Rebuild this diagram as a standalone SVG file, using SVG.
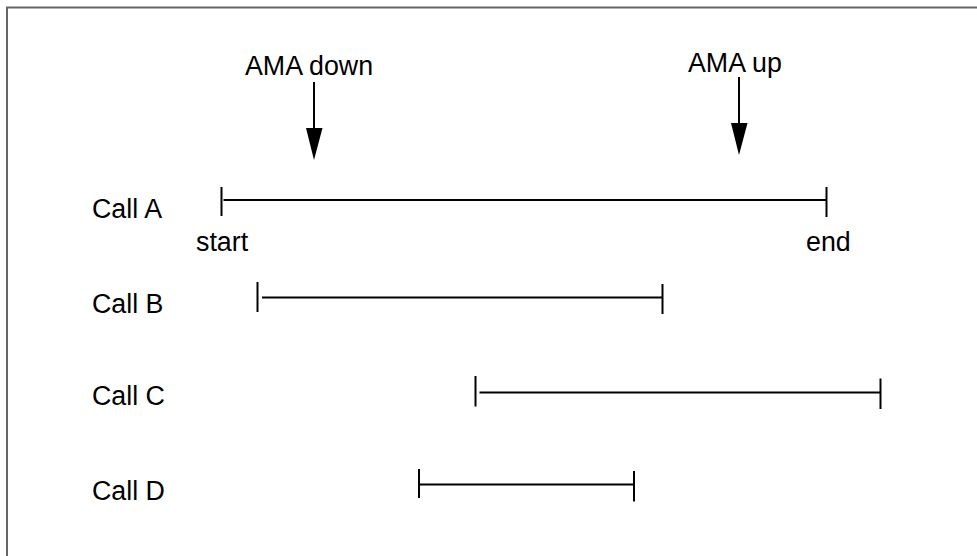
<svg xmlns="http://www.w3.org/2000/svg" width="977" height="556" viewBox="0 0 977 556">
<style>
text{font-family:"Liberation Sans",Arial,sans-serif;font-size:26.8px;fill:#000}
.ln{stroke:#000;stroke-width:2;fill:none}
.head{fill:#000}
</style>
<rect x="0" y="0" width="977" height="556" fill="#fff"/>
<rect x="7" y="7.5" width="990" height="580" fill="none" stroke="#666" stroke-width="2"/>
<g id="labels">
<g id="ama-down"><text x="245" y="75">AMA down</text></g>
<g id="ama-up"><text x="688" y="72">AMA up</text></g>
<g id="call-a-label"><text x="92" y="218">Call A</text></g>
<g id="start-label"><text x="196" y="251">start</text></g>
<g id="end-label"><text x="806" y="251">end</text></g>
<g id="call-b-label"><text x="92" y="313">Call B</text></g>
<g id="call-c-label"><text x="92" y="405">Call C</text></g>
<g id="call-d-label"><text x="92" y="500">Call D</text></g>
</g>
<g id="connectors">
<g id="arrow-down">
<line class="ln" x1="314" y1="82" x2="314" y2="132"/>
<polygon class="head" points="306,128 322.5,128 314,160"/>
</g>
<g id="arrow-up">
<line class="ln" x1="739" y1="77" x2="739" y2="126"/>
<polygon class="head" points="731,123 747.5,123 739,155"/>
</g>
<g id="call-a">
<line class="ln" x1="221.5" y1="187" x2="221.5" y2="216"/>
<line class="ln" x1="223.5" y1="200" x2="826.5" y2="200"/>
<line class="ln" x1="826.5" y1="187" x2="826.5" y2="217"/>
</g>
<g id="call-b">
<line class="ln" x1="257.5" y1="282" x2="257.5" y2="312"/>
<line class="ln" x1="262" y1="297.5" x2="662.5" y2="297.5"/>
<line class="ln" x1="662.5" y1="284" x2="662.5" y2="314"/>
</g>
<g id="call-c">
<line class="ln" x1="475.5" y1="376" x2="475.5" y2="406.5"/>
<line class="ln" x1="479.5" y1="392.5" x2="880.5" y2="392.5"/>
<line class="ln" x1="880.5" y1="378.5" x2="880.5" y2="409"/>
</g>
<g id="call-d">
<line class="ln" x1="419" y1="469" x2="419" y2="498"/>
<line class="ln" x1="419" y1="484.5" x2="634" y2="484.5"/>
<line class="ln" x1="634" y1="471" x2="634" y2="501.5"/>
</g>
</g>
</svg>
